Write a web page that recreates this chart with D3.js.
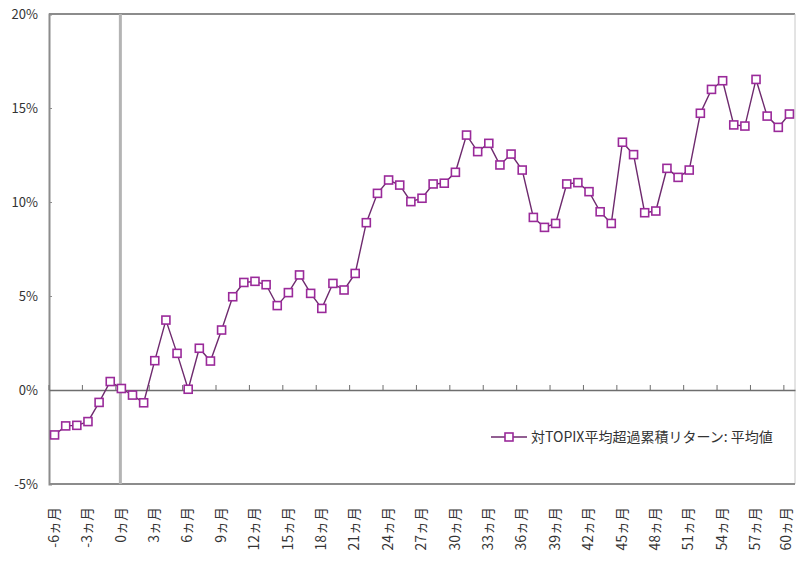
<!DOCTYPE html>
<html>
<head>
<meta charset="utf-8">
<script src="https://cdn.jsdelivr.net/npm/d3@7"></script>
<style>
  body { margin: 0; background: #fff; }
  text { font-family: "Noto Sans CJK JP", "Liberation Sans", sans-serif; fill: #333; }
</style>
</head>
<body>
<div id="chart"></div>
<script>
// months relative to event (-6 .. 60)
const months = d3.range(-6, 61);
const monthLabels = months.map(m => m + "ヵ月");
// cumulative excess return vs TOPIX, average (%)
const excessReturn = [
  -2.39, -1.91, -1.88, -1.68, -0.66, 0.45, 0.08, -0.27, -0.68, 1.56,
  3.72, 1.95, 0.04, 2.22, 1.54, 3.19, 4.96, 5.72, 5.78, 5.6,
  4.49, 5.18, 6.12, 5.14, 4.34, 5.67, 5.32, 6.2, 8.9, 10.46,
  11.17, 10.9, 10.02, 10.2, 10.96, 11.0, 11.58, 13.56, 12.68, 13.12,
  11.97, 12.55, 11.7, 9.18, 8.65, 8.86, 10.96, 11.03, 10.55, 9.48,
  8.86, 13.18, 12.52, 9.43, 9.52, 11.79, 11.31, 11.7, 14.72, 15.99,
  16.45, 14.1, 14.04, 16.52, 14.57, 13.97, 14.68
];
const yTicks = [-5, 0, 5, 10, 15, 20];
const seriesName = "対TOPIX平均超過累積リターン: 平均値";

const W = 796, H = 562;
const margin = { top: 14, right: 1, bottom: 78, left: 49 };
const width = W - margin.left - margin.right;
const height = H - margin.top - margin.bottom;

const svg = d3.select("#chart").append("svg")
  .attr("width", W).attr("height", H)
  .append("g")
  .attr("transform", "translate(" + margin.left + "," + margin.top + ")");

const x = d3.scaleBand().domain(monthLabels).range([0, width]).padding(0);
const y = d3.scaleLinear().domain([-5, 20]).range([height, 0]);
const cx = d => x(d) + x.bandwidth() / 2;

// frame
svg.append("line").attr("x1", 0).attr("x2", width).attr("y1", 0).attr("y2", 0)
  .attr("stroke", "#8c8c8c").attr("stroke-width", 2);
svg.append("line").attr("x1", width).attr("x2", width).attr("y1", 0).attr("y2", height)
  .attr("stroke", "#c8c8c8").attr("stroke-width", 1);
svg.append("line").attr("x1", 0).attr("x2", width).attr("y1", height).attr("y2", height)
  .attr("stroke", "#8c8c8c").attr("stroke-width", 2);

// y axis
const yAxis = svg.append("g")
  .call(d3.axisLeft(y).tickValues(yTicks).tickSize(-3).tickPadding(11).tickFormat(d => d + "%"));
yAxis.select(".domain").attr("stroke", "#8c8c8c").attr("stroke-width", 2);
yAxis.selectAll(".tick line").attr("stroke", "#8c8c8c");
yAxis.selectAll(".tick text").style("font-size", "13px").attr("fill", "#333");

// zero line with ticks every 3 months
const zeroAxis = svg.append("g").attr("transform", "translate(0," + y(0) + ")")
  .call(d3.axisTop(x).tickValues(monthLabels.filter((d, i) => i % 3 === 0))
    .tickSize(5).tickSizeOuter(0).tickFormat(""));
zeroAxis.select(".domain").attr("stroke", "#6e6e6e").attr("stroke-width", 1.5);
zeroAxis.selectAll(".tick").attr("transform", d => "translate(" + x(d) + ",0)");
zeroAxis.selectAll(".tick line").attr("stroke", "#6e6e6e");

// month labels at bottom
const lastLabel = monthLabels[monthLabels.length - 1];
const xAxis = svg.append("g").attr("transform", "translate(0," + height + ")")
  .call(d3.axisBottom(x).tickValues(monthLabels.filter((d, i) => i % 3 === 0))
    .tickSize(0).tickPadding(0));
xAxis.select(".domain").remove();
xAxis.selectAll(".tick text")
  .style("font-size", "14px")
  .attr("fill", "#333")
  .attr("transform", "rotate(-90)")
  .attr("text-anchor", "end")
  .attr("dy", "0.3em")
  .attr("x", -23)
  .attr("y", d => d === lastLabel ? -3 : 0); // keep the last one inside the page

// event line at 0 months
svg.append("line")
  .attr("x1", cx("0ヵ月") - 1).attr("x2", cx("0ヵ月") - 1)
  .attr("y1", 0).attr("y2", height)
  .attr("stroke", "#b4b4b4").attr("stroke-width", 3);

// series
const pts = monthLabels.map((d, i) => ({ m: d, v: excessReturn[i] }));
svg.append("path").datum(pts)
  .attr("fill", "none").attr("stroke", "#6e2a6e").attr("stroke-width", 1.4)
  .attr("d", d3.line().x(d => cx(d.m)).y(d => y(d.v)));

svg.selectAll(".mk").data(pts).join("rect")
  .attr("class", "mk")
  .attr("x", d => cx(d.m) - 4).attr("y", d => y(d.v) - 4)
  .attr("width", 8).attr("height", 8)
  .attr("fill", "#fff").attr("stroke", "#9a2a9a").attr("stroke-width", 1.6);

// legend
const lg = svg.append("g").attr("transform", "translate(" + (491 - margin.left) + "," + (437 - margin.top) + ")");
lg.append("line").attr("x1", 0).attr("x2", 36).attr("stroke", "#6e2a6e").attr("stroke-width", 1.6);
lg.append("rect").attr("x", 14).attr("y", -4).attr("width", 8).attr("height", 8)
  .attr("fill", "#fff").attr("stroke", "#9a2a9a").attr("stroke-width", 1.6);
lg.append("text").attr("x", 40).attr("dy", "0.35em").style("font-size", "14px").text(seriesName);
</script>
</body>
</html>
